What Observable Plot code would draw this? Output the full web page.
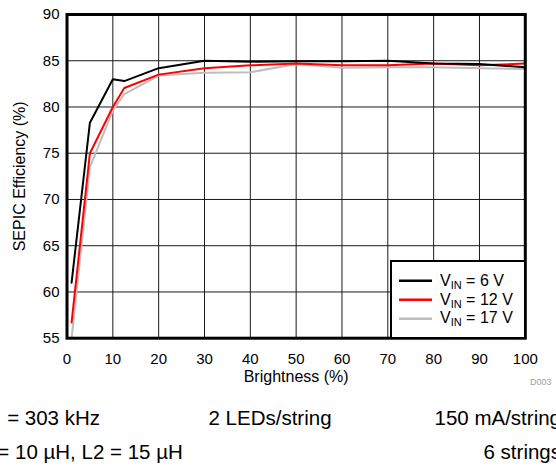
<!DOCTYPE html>
<html><head><meta charset="utf-8">
<script src="https://cdn.jsdelivr.net/npm/d3@7"></script>
<script src="https://cdn.jsdelivr.net/npm/@observablehq/plot@0.6"></script>
<style>
html,body{margin:0;padding:0;background:#fff;}
#chart{position:relative;width:556px;height:469px;overflow:hidden;}
</style></head><body><div id="chart"></div>
<script>
// ---- data ----
const brightness = [1, 5, 10, 12.5, 20, 30, 40, 50, 60, 70, 80, 90, 100];
const eff6V  = [61.0, 78.3, 83.0, 82.8, 84.2, 85.0, 84.9, 84.95, 84.95, 85.0, 84.7, 84.65, 84.3];
const eff12V = [56.7, 75.0, 80.0, 82.05, 83.5, 84.2, 84.5, 84.7, 84.5, 84.5, 84.7, 84.5, 84.7];
const eff17V = [55.0, 73.5, 79.6, 81.4, 83.4, 83.7, 83.75, 84.65, 84.25, 84.3, 84.3, 84.2, 84.1];
const seriesVin = ["6", "12", "17"];
const seriesColors = ["#000000", "#ff0000", "#bdbdbd"];
const xTicks = [0, 10, 20, 30, 40, 50, 60, 70, 80, 90, 100];
const yTicks = [55, 60, 65, 70, 75, 80, 85, 90];
const xLabel = "Brightness (%)";
const yLabel = "SEPIC Efficiency (%)";
const figId = "D003";
const footRow1 = ["= 303 kHz", "2 LEDs/string", "150 mA/string"];
const footRow2 = ["= 10 µH, L2 = 15 µH", "6 strings"];

const seriesValues = [eff6V, eff12V, eff17V];
const table = (vals, vin) => brightness.map((b, i) => ({b, e: vals[i], vin}));

const font = "'Liberation Sans', Arial, Helvetica, sans-serif";
const W = 556, H = 469;

const lineMarks = [2, 1, 0].map(k =>
  Plot.line(table(seriesValues[k], seriesVin[k]), {x: "b", y: "e", stroke: seriesColors[k], strokeWidth: 2, clip: true})
);

const plot = Plot.plot({
  width: W, height: H,
  marginLeft: 66.5, marginRight: 31.2, marginTop: 14, marginBottom: 131.3,
  style: {fontFamily: font, fontSize: "15px", color: "black", background: "white", overflow: "visible"},
  x: {domain: [0, 100]},
  y: {domain: [55, 90]},
  marks: [
    Plot.gridX(xTicks, {stroke: "#1a1a1a", strokeOpacity: 1, strokeWidth: 1}),
    Plot.gridY(yTicks, {stroke: "#1a1a1a", strokeOpacity: 1, strokeWidth: 1}),
    ...lineMarks,
    Plot.axisX(xTicks, {tickSize: 0, tickPadding: 15.5, fontSize: 15, fill: "black", label: null}),
    Plot.axisY(yTicks, {tickSize: 0, tickPadding: 7.5, fontSize: 15, fill: "black", label: null}),
    Plot.text([xLabel], {text: d => d, frameAnchor: "bottom", dy: 38.5, textAnchor: "middle", lineAnchor: "middle", fontSize: 16, fill: "black"}),
    Plot.text([yLabel], {text: d => d, frameAnchor: "left", dx: -47, rotate: -90, textAnchor: "middle", lineAnchor: "middle", fontSize: 16, fill: "black"}),
    Plot.frame({stroke: "black", strokeWidth: 3})
  ]
});
document.getElementById("chart").appendChild(plot);

// ---- legend & annotations ----
const svg = d3.select(plot);
const lg = svg.append("g").attr("font-family", font).attr("text-anchor", "start");
lg.append("rect").attr("x", 391).attr("y", 261).attr("width", 134).attr("height", 77)
  .attr("fill", "white").attr("stroke", "black").attr("stroke-width", 2);
seriesVin.forEach((v, i) => {
  const cy = 280.7 + i * 19;
  lg.append("line").attr("x1", 399).attr("x2", 432).attr("y1", cy).attr("y2", cy)
    .attr("stroke", seriesColors[i]).attr("stroke-width", 2.5);
  const t = lg.append("text").attr("x", 440).attr("y", 285.7 + i * 18.8)
    .style("font-size", "16px").attr("fill", "black").attr("text-anchor", "start");
  t.append("tspan").text("V");
  t.append("tspan").style("font-size", "11px").attr("dy", 3).text("IN");
  t.append("tspan").attr("dy", -3).text(` = ${v} V`);
});

svg.append("text").attr("x", 530).attr("y", 385).attr("font-family", font).style("font-size", "9px")
  .attr("text-anchor", "start").attr("fill", "#a0a0a0").text(figId);

const fg = svg.append("g").attr("font-family", font).style("font-size", "20.5px").attr("fill", "black");
// row 1: left text right-aligned, centre text, right text right-aligned past the edge
fg.append("text").attr("x", 100).attr("y", 425).attr("text-anchor", "end").text(footRow1[0]);
fg.append("text").attr("x", 208.5).attr("y", 425).attr("text-anchor", "start").text(footRow1[1]);
fg.append("text").attr("x", 561).attr("y", 425).attr("text-anchor", "end").text(footRow1[2]);
// row 2
fg.append("text").attr("x", -2.7).attr("y", 459).attr("text-anchor", "start").text(footRow2[0]);
fg.append("text").attr("x", 561).attr("y", 459).attr("text-anchor", "end").text(footRow2[1]);
</script></body></html>
